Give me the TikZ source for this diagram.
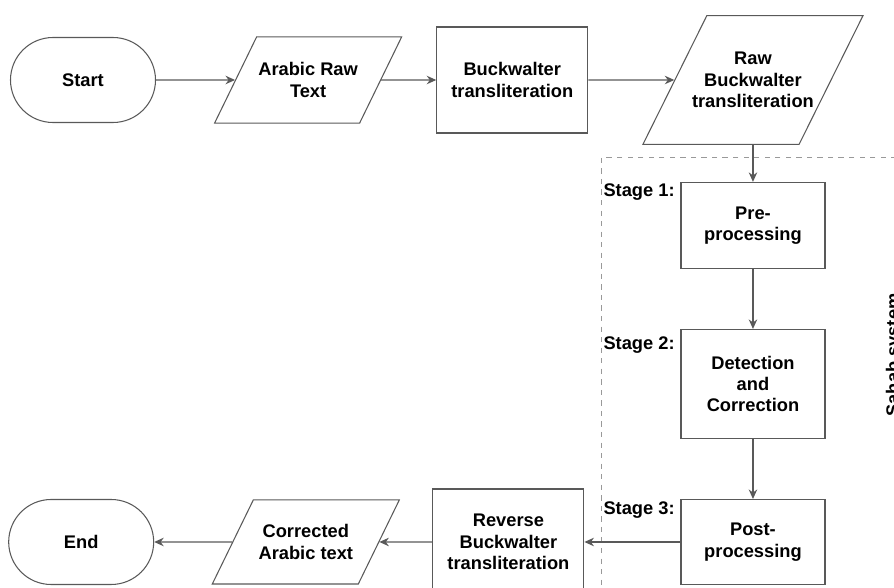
\documentclass[tikz,border=0pt]{standalone}
\usepackage{fontspec}
\setmainfont{Liberation Sans}
\usetikzlibrary{arrows.meta, positioning, shapes.geometric, calc}

\begin{document}
\begin{tikzpicture}[
        font=\fontsize{10.4}{12.2}\selectfont\bfseries,
        line width=0.6pt,
        terminal/.style={rectangle, draw=black!65, rounded corners=0.85cm, minimum width=2.9cm, minimum height=1.7cm},
        process/.style={rectangle, draw=black!65, minimum width=2.88cm, minimum height=1.72cm, align=center},
        io/.style={trapezium, trapezium left angle=64, trapezium right angle=116, trapezium stretches body=true, draw=black!65, minimum width=3.74cm, minimum height=1cm, align=center, inner xsep=0pt, inner ysep=0.512cm},
        arrow/.style={-{Stealth[length=1.9mm, width=1.7mm]}, draw=black!65},
        stage/.style={anchor=north east, inner sep=1pt, xshift=-2pt},
        group/.style={draw=black!40, dashed}
    ]
    \useasboundingbox (0,0) rectangle (17.88,11.74);

    % Top row: input side
    \node (Start) [terminal] at (1.66,10.14) {Start};
    \node (Arabic) [io, right=1.58cm of Start] {Arabic Raw\\Text};
    \node (Buck) [process, right=1.1cm of Arabic, minimum width=3.02cm, minimum height=2.12cm] {Buckwalter\\transliteration};
    \node (Raw) [io, right=1.72cm of Buck, minimum width=4.4cm, trapezium left angle=63.6, trapezium right angle=116.4, inner xsep=-0.31cm, inner ysep=0.73cm] {Raw\\Buckwalter\\transliteration};

    % Sahab system stages
    \node (Pre) [process, below=0.74cm of Raw] {Pre-\\processing};
    \node (Det) [process, below=1.2cm of Pre, minimum height=2.18cm] {Detection\\and\\Correction};
    \node (Post) [process, below=1.2cm of Det, minimum height=1.7cm] {Post-\\processing};
    \node (S1) [stage] at (Pre.north west) {Stage 1:};
    \node (S2) [stage, yshift=-3pt] at (Det.north west) {Stage 2:};
    \node (S3) [stage] at (Post.north west) {Stage 3:};
    \draw[group] ($(Pre.north west)+(-1.58,0.48)$) rectangle ($(Post.south east)+(2,-1)$);
    \node (Sahab) [rotate=90] at (17.89,4.64) {Sahab system};

    % Bottom row: output side
    \node (Rev) [process, left=1.92cm of Post, minimum width=3.02cm, minimum height=2.12cm] {Reverse\\Buckwalter\\transliteration};
    \node (Cor) [io, left=1.06cm of Rev, inner ysep=0.492cm] {Corrected\\Arabic text};
    \node (End) [terminal, left=1.56cm of Cor] {End};

    \draw[arrow] (Start) -- (Arabic);
    \draw[arrow] (Arabic) -- (Buck);
    \draw[arrow] (Buck) -- (Raw);
    \draw[arrow] (Pre.north |- Raw.south) -- (Pre.north);
    \draw[arrow] (Pre) -- (Det);
    \draw[arrow] (Det) -- (Post);
    \draw[arrow] (Post) -- (Rev);
    \draw[arrow] (Rev) -- (Cor);
    \draw[arrow] (Cor) -- (End);

    \end{tikzpicture}
\end{document}
